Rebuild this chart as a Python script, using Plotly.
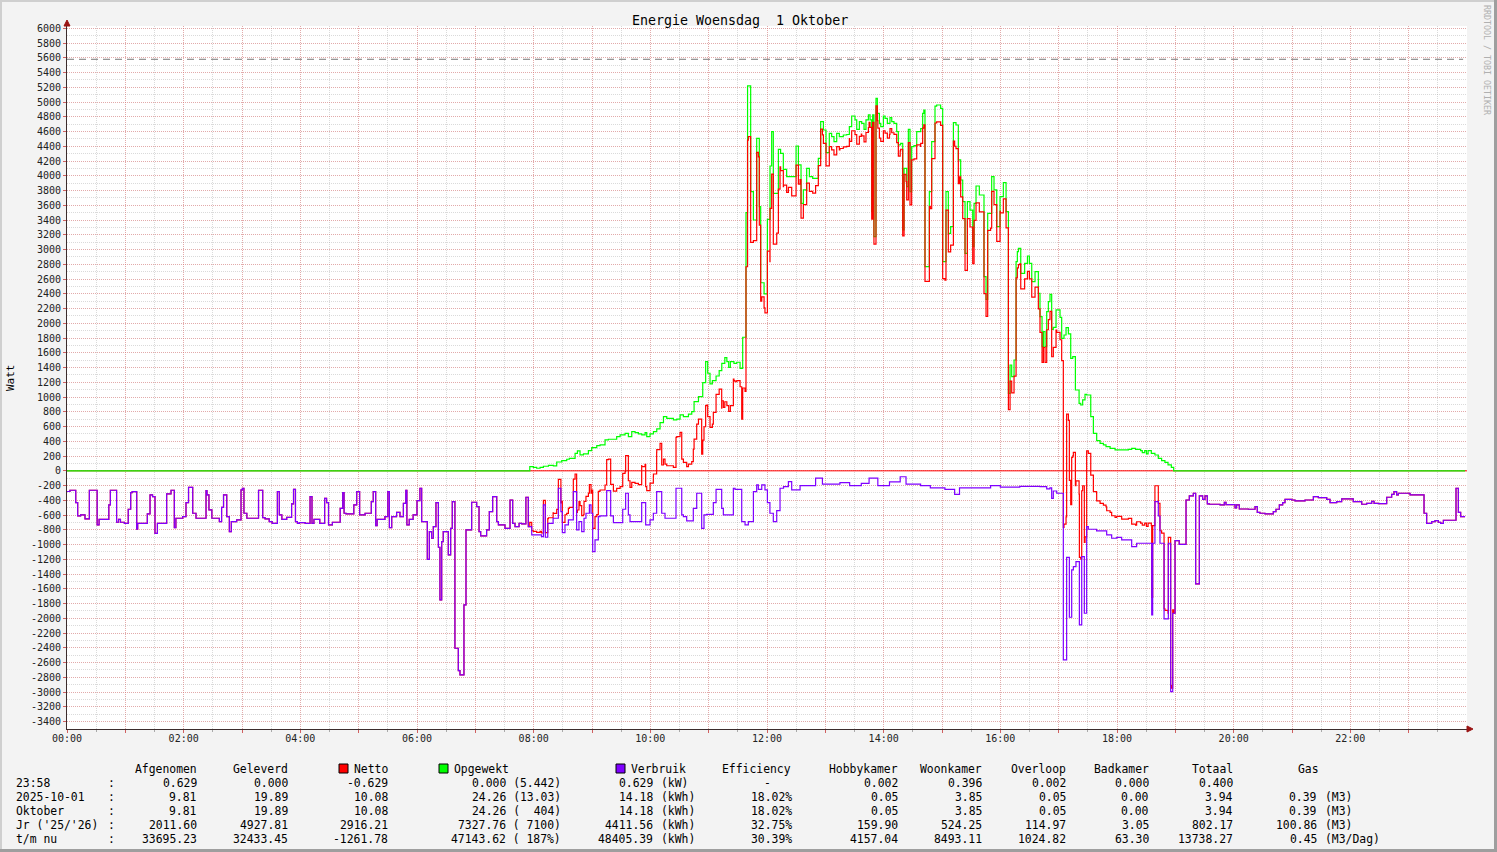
import numpy as np
import plotly.graph_objects as go

# ---------------- data (time in minutes after 00:00, values in Watt) ----------------
# Verbruik (consumption), drawn below the axis (negative)
verbruik_t = [0, 3, 9, 11, 14, 18.5, 23, 31, 33, 43, 44.6, 51, 53, 55, 59, 63, 65.5, 67, 71.7, 72.7,
              82.6, 85.4, 88, 90.5, 93, 102.5, 107, 110.4, 112, 119, 122.4, 125, 129.3, 132.7, 143, 144,
              146, 149, 156.7, 159, 161, 164.3, 167, 169, 174.5, 179, 180.4, 182, 185, 197, 201.3, 203.7,
              208, 211, 216.4, 218.4, 221, 226, 231, 233, 235, 237, 239, 245, 250, 252, 254, 260, 265,
              267, 269, 273, 281, 283.6, 285, 287, 295, 298, 301, 306.6, 313, 315, 317.5, 319, 327, 330,
              331.6, 334, 339, 342.5, 346, 348.5, 349.6, 352, 356, 360, 363, 364.8, 370.6, 372.7, 375,
              376.8, 379.5, 382, 383.6, 385.4, 387, 392.2, 394.6, 396.3, 399, 402.5, 404.2, 408.3, 410.4,
              416.2, 421.4, 423.8, 425.5, 431.6, 434.4, 437.8, 442, 443.7, 450.5, 455.7, 458.4, 460.8,
              465, 467.7, 472, 474.5, 478, 488, 490, 492, 494.5, 500, 505.4, 508, 509.5, 512.2, 515.7,
              520.8, 524.2, 526.6, 529.4, 531.8, 533.8, 537.3, 539, 540.7, 543.1, 546.5, 548.2, 555.1,
              559.2, 562, 571.6, 574.6, 577.4, 579.1, 591.1, 595.2, 599.7, 603.1, 606.5, 611.7, 615.1,
              626.4, 632.3, 634, 637.4, 644.2, 647.7, 652.8, 655.2, 658, 664.8, 667.6, 673.4, 675.1,
              685.4, 687.1, 694, 697.4, 700.8, 706, 709.4, 711.1, 714.6, 717.9, 720.4, 723, 726.5, 730,
              733.4, 737, 742, 745.4, 754, 762, 770, 777, 795, 805, 817, 825, 834, 846, 857, 863, 878,
              888, 903, 913, 918, 950, 960, 980, 1000.8, 1007.7, 1011, 1012.8, 1014.5, 1018, 1024.8,
              1028.2, 1031, 1033.4, 1035.1, 1037.8, 1041.3, 1043.7, 1046.4, 1048.8, 1050.5, 1059, 1069.4,
              1074.5, 1079.7, 1084.8, 1095.1, 1100.2, 1115.7, 1116.7, 1119, 1122.5, 1124.2, 1128.4,
              1132.8, 1135.2, 1137.3, 1139.7, 1144, 1151, 1154.4, 1158.5, 1160.9, 1164.7, 1168.1, 1170.5,
              1172.9, 1175, 1186, 1190.4, 1192.1, 1201.4, 1203, 1205.8, 1215.1, 1222, 1224.3, 1227,
              1232.2, 1240.8, 1243.5, 1247, 1250.4, 1252.8, 1259.7, 1263.1, 1273.4, 1282, 1287.1, 1295.7,
              1299.1, 1306, 1311.1, 1323, 1331.7, 1336.8, 1342, 1344.4, 1348.8, 1357.4, 1362.5, 1364.9,
              1367.6, 1369.4, 1381.4, 1395.8, 1398.5, 1403.7, 1407.1, 1410.5, 1412.9, 1415.7, 1428.7,
              1431.1, 1433.5]
verbruik_w = [-280, -263, -430, -611, -598, -652, -263, -733, -657, -462, -263, -697, -657, -697, -711, -521,
              -295, -281, -792, -711, -584, -327, -349, -847, -711, -313, -263, -770, -643, -620, -431,
              -223, -575, -643, -268, -327, -530, -643, -688, -494, -327, -620, -824, -688, -666, -259,
              -236, -575, -643, -263, -634, -652, -688, -711, -281, -598, -657, -630, -449, -250, -688,
              -711, -701, -711, -349, -711, -657, -711, -372, -431, -733, -697, -508, -295, -575, -584,
              -462, -281, -598, -575, -417, -281, -742, -657, -620, -281, -770, -620, -562, -620, -440,
              -263, -733, -657, -598, -404, -236, -688, -1199, -824, -914, -756, -430, -1036, -1750, -959,
              -824, -1140, -779, -417, -2405, -2708, -2767, -1818, -801, -426, -485, -824, -882, -801,
              -553, -349, -688, -733, -779, -395, -711, -756, -711, -720, -358, -756, -869, -891, -462,
              -900, -711, -643, -236, -553, -837, -733, -666, -281, -801, -688, -824, -643, -575, -462,
              -575, -1095, -936, -620, -611, -268, -611, -702, -521, -304, -598, -688, -430, -733, -666,
              -575, -281, -575, -643, -236, -598, -620, -679, -508, -304, -779, -598, -589, -430, -250,
              -508, -598, -236, -250, -688, -733, -688, -281, -191, -250, -191, -259, -430, -575, -688,
              -539, -236, -214, -146, -259, -200, -200, -100, -180, -160, -200, -170, -100, -200, -150,
              -80, -180, -200, -230, -250, -320, -230, -200, -220, -210, -214, -245, -230, -372, -273,
              -304, -2564, -1172, -1985, -1344, -1298, -1231, -2089, -1163, -1931, -756, -792, -815, -869,
              -914, -901, -937, -1027, -982, -1954, -982, -417, -612, -982, -2008, -982, -2993, -1931,
              -946, -996, -395, -340, -304, -1533, -340, -386, -340, -449, -453, -462, -426, -458, -503,
              -462, -517, -521, -485, -562, -575, -584, -553, -521, -462, -431, -386, -395, -408, -395,
              -349, -363, -386, -431, -417, -381, -417, -453, -440, -413, -440, -444, -358, -318, -281,
              -327, -304, -327, -575, -711, -688, -675, -697, -711, -670, -236, -562, -620]

# Opgewekt (solar production)
opgewekt_t = [0, 476, 479.7, 483.1, 486.6, 490, 495.2, 500.3, 503.7, 508.9, 514, 516.7, 522.6, 525, 527.7,
              531.2, 536.3, 539.7, 544.9, 548.3, 553.4, 556.9, 565.4, 568.9, 574, 577.4, 580.9, 584.3,
              587.7, 591.2, 594.6, 596.3, 599.7, 603.2, 606.6, 610, 613.5, 616.9, 623.7, 627.2, 630.6,
              634, 639.2, 642.6, 645, 649.5, 653.9, 656.9, 659, 661.4, 663.8, 667.6, 670.8, 673.5, 676.6,
              678.7, 680.6, 682.3, 686, 688.9, 692.3, 695, 698.4, 700, 703.2, 706, 709.4, 712.1, 713.5,
              717, 720.4, 723.1, 724.8, 726.5, 731.7, 734, 736.8, 740.2, 749.9, 752.3, 755, 757.4, 760.8,
              763.6, 767, 772.8, 775.2, 778, 780.7, 784.1, 786.5, 788.9, 791.7, 794.4, 798.5, 802, 804.7,
              807.1, 810.5, 812.3, 815, 817.4, 819.8, 821.8, 824.3, 826, 827.7, 828.7, 830, 832.1, 833.5,
              835.6, 837, 839.7, 841.4, 843.8, 846.5, 848.3, 850.6, 853.4, 855.1, 857.5, 859.6, 861,
              863.7, 865.4, 867.1, 868.8, 871.2, 874, 878.1, 880.1, 881.3, 882.5, 887, 889.4, 892.8, 894.5,
              898.6, 900.7, 904.1, 906.5, 908.9, 911.7, 914.4, 916.8, 919.2, 921.3, 923.7, 926.1, 928.8,
              931.6, 933, 935, 938.4, 943.2, 945.3, 947, 951.1, 953.5, 956.3, 959.7, 963.1, 965.9, 968.3,
              970, 971.7, 974.1, 976.2, 977.5, 978.6, 981, 985, 987.9, 989.9, 992.3, 995.7, 999.1,
              1000.8, 1002.9, 1004.3, 1006, 1007.7, 1009.4, 1011.1, 1012.8, 1014.5, 1017.3, 1021.4,
              1023.1, 1025.5, 1027.6, 1030, 1032.4, 1034.5, 1037.2, 1041, 1042.7, 1044.7, 1047.1, 1048.8,
              1053, 1055.7, 1059.1, 1062.6, 1066, 1068.7, 1072.9, 1078, 1091.7, 1095.1, 1099.1, 1104.3,
              1106, 1108.5, 1110.3, 1112, 1115.3, 1119, 1122.5, 1125.9, 1129.3, 1132.5, 1135.9, 1138.3]
opgewekt_w = [0, 57, 48, 35, 48, 62, 75, 66, 120, 138, 157, 170, 238, 270, 216, 229, 274, 315, 342, 351, 419,
              428, 464, 487, 509, 464, 532, 518, 500, 487, 518, 464, 500, 532, 570, 654, 735, 712, 690,
              700, 758, 735, 770, 803, 938, 1006, 1196, 1481, 1323, 1178, 1223, 1286, 1359, 1458, 1535,
              1481, 1404, 1481, 1458, 1472, 1390, 1811, 3500, 5218, 3785, 3401, 4508, 3582, 2550, 2400,
              3410, 4133, 4599, 3763, 4359, 4305, 4088, 3988, 4404, 4147, 3627, 3808, 4101, 3988, 3966,
              4237, 4734, 4621, 4314, 4576, 4531, 4463, 4576, 4530, 4553, 4560, 4666, 4811, 4757, 4630,
              4734, 4712, 4630, 4757, 4825, 4757, 3514, 4825, 3175, 5050, 4847, 4712, 4666, 4811, 4779,
              4712, 4790, 4734, 4712, 4599, 4418, 4440, 3265, 4101, 3853, 4630, 3785, 4395, 4410, 4599,
              4640, 4847, 4892, 2768, 3785, 4463, 4946, 4960, 4915, 2836, 3785, 3220, 3310, 4721, 4689,
              4215, 3943, 3650, 2949, 3650, 3536, 3040, 3627, 3862, 3740, 2633, 2325, 3491, 3988, 3808,
              3310, 3717, 3907, 3514, 1051, 1435, 1277, 1503, 2836, 2971, 3017, 2678, 2813, 2913, 2813,
              2565, 2700, 2407, 2090, 1684, 1887, 1684, 2158, 2294, 2393, 1919, 1946, 2181, 2081, 1797,
              1842, 1941, 1856, 1525, 1548, 1096, 916, 893, 961, 1037, 1028, 735, 509, 409, 373, 351, 328,
              305, 283, 292, 305, 292, 274, 247, 274, 229, 274, 238, 215, 170, 138, 116, 80, 48, 0]

assert len(verbruik_t) == len(verbruik_w), (len(verbruik_t), len(verbruik_w))
assert len(opgewekt_t) == len(opgewekt_w), (len(opgewekt_t), len(opgewekt_w))

END_T = 1438            # last sample (23:58)
capaciteit_w = 5580     # dashed reference line

hour_ticks = list(range(0, 24))
y_ticks = list(range(-3400, 6001, 200))

legend_rows = ["23:58", "2025-10-01", "Oktober", "Jr ('25/'26)", "t/m nu"]
col_afgenomen = ["0.629", "9.81", "9.81", "2011.60", "33695.23"]
col_geleverd = ["0.000", "19.89", "19.89", "4927.81", "32433.45"]
col_netto = ["-0.629", "10.08", "10.08", "2916.21", "-1261.78"]
col_opgewekt = ["0.000 (5.442)", "24.26 (13.03)", "24.26 (  404)", "7327.76 ( 7100)", "47143.62 ( 187%)"]
col_verbruik = ["0.629", "14.18", "14.18", "4411.56", "48405.39"]
col_verbruik_unit = ["(kW)", "(kWh)", "(kWh)", "(kWh)", "(kWh)"]
col_efficiency = ["-", "18.02%", "18.02%", "32.75%", "30.39%"]
col_hobbykamer = ["0.002", "0.05", "0.05", "159.90", "4157.04"]
col_woonkamer = ["0.396", "3.85", "3.85", "524.25", "8493.11"]
col_overloop = ["0.002", "0.05", "0.05", "114.97", "1024.82"]
col_badkamer = ["0.000", "0.00", "0.00", "3.05", "63.30"]
col_totaal = ["0.400", "3.94", "3.94", "802.17", "13738.27"]
col_gas = ["", "0.39", "0.39", "100.86", "0.45"]
col_gas_unit = ["", "(M3)", "(M3)", "(M3)", "(M3/Dag)"]

# ---------------- derived series (like an rrdtool CDEF) ----------------
def step_eval(tk, vk, grid):
    idx = np.searchsorted(np.asarray(tk), grid, side="right") - 1
    return np.asarray(vk, dtype=float)[idx]

grid_t = np.union1d(verbruik_t, opgewekt_t)
netto_w = step_eval(opgewekt_t, opgewekt_w, grid_t) + step_eval(verbruik_t, verbruik_w, grid_t)

def closed(t, v):
    return list(t) + [END_T], list(v) + [v[-1]]

# ---------------- figure ----------------
W, H = 1497, 852
PX0, PX1, PY0, PY1 = 67, 1467, 26, 729
FONT = "DejaVu Sans Mono"
NB = "\u00a0"

def xp(px):
    return (px - PX0) / (PX1 - PX0)

def yp(py):
    return (PY1 - py) / (PY1 - PY0)

fig = go.Figure()

# zero rule (red) and capacity line
fig.add_trace(go.Scatter(x=[0, 1440], y=[0, 0], mode="lines", line=dict(color="#ff0000", width=1),
                         hoverinfo="skip", showlegend=False))
fig.add_trace(go.Scatter(x=[0, 1436], y=[capaciteit_w, capaciteit_w], mode="lines",
                         line=dict(color="#777777", width=1, dash="7px,5px"), hoverinfo="skip",
                         showlegend=False))

gx, gy = closed(opgewekt_t, opgewekt_w)
fig.add_trace(go.Scatter(x=gx, y=gy, mode="lines", line=dict(color="#00ff00", width=1.2, shape="hv"),
                         name="Opgewekt", showlegend=False))
nx, ny = closed(grid_t, netto_w)
fig.add_trace(go.Scatter(x=nx, y=ny, mode="lines", line=dict(color="#ff0000", width=1.2, shape="hv"),
                         name="Netto", showlegend=False))
vx, vy = closed(verbruik_t, verbruik_w)
fig.add_trace(go.Scatter(x=vx, y=vy, mode="lines", line=dict(color="#7f00ff", width=1.2, shape="hv"),
                         name="Verbruik", showlegend=False))

MAJ = "rgba(235,110,110,0.45)"
MIN = "rgba(150,150,150,0.35)"
DOT = "1px,1px"

fig.update_xaxes(
    range=[0, 1440], tickmode="array", tickvals=[h * 60 for h in hour_ticks],
    ticktext=[f"{h:02d}:00" if h % 2 == 0 else "" for h in hour_ticks],
    showgrid=True, gridcolor=MAJ, gridwidth=1, griddash=DOT, zeroline=False,
    showline=True, linecolor="#3c2c2c", linewidth=1,
    ticks="outside", ticklen=3, tickcolor="#d06060", ticklabelstandoff=-3,
    tickfont=dict(family=FONT, size=10, color="#222222"),
    minor=dict(dtick=30, tick0=0, showgrid=True, gridcolor=MIN, griddash=DOT, ticks="outside",
               ticklen=2, tickcolor="#aaaaaa"),
)
fig.update_yaxes(
    range=[-3500, 6031], tickmode="array", tickvals=y_ticks, ticktext=[str(v) for v in y_ticks],
    showgrid=True, gridcolor=MAJ, gridwidth=1, griddash=DOT, zeroline=False,
    showline=True, linecolor="#3c2c2c", linewidth=1,
    ticks="outside", ticklen=3, tickcolor="#d06060",
    tickfont=dict(family=FONT, size=10, color="#222222"),
    minor=dict(dtick=100, tick0=0, showgrid=True, gridcolor=MIN, griddash=DOT),
)

annotations = []
shapes = []

def txt(px, py, s, anchor="left", size=11.4, color="#000000", angle=0):
    annotations.append(dict(x=xp(px), y=yp(py), xref="paper", yref="paper", text=s.replace(" ", NB),
                            showarrow=False, xanchor=anchor, yanchor="middle", textangle=angle,
                            font=dict(family=FONT, size=size, color=color), borderpad=0, borderwidth=0))

# title, axis label, watermark
txt(740, 20, "Energie Woensdag  1 Oktober", "center", 13.3)
txt(10, 378, "Watt", "center", 11, angle=-90)
txt(1487, 60, "RRDTOOL / TOBI OETIKER", "center", 8.3, color="#b0b0b0", angle=90)

# legend table
ROW_Y = [783, 797, 811, 825, 839]
HEAD_Y = 769
txt(197, HEAD_Y, "Afgenomen", "right")
txt(288, HEAD_Y, "Geleverd", "right")
txt(354, HEAD_Y, "Netto", "left")
txt(454, HEAD_Y, "Opgewekt", "left")
txt(631, HEAD_Y, "Verbruik", "left")
txt(791, HEAD_Y, "Efficiency", "right")
txt(898, HEAD_Y, "Hobbykamer", "right")
txt(982, HEAD_Y, "Woonkamer", "right")
txt(1066, HEAD_Y, "Overloop", "right")
txt(1149, HEAD_Y, "Badkamer", "right")
txt(1233, HEAD_Y, "Totaal", "right")
txt(1298, HEAD_Y, "Gas", "left")

for i, ry in enumerate(ROW_Y):
    txt(16, ry, legend_rows[i], "left")
    txt(111, ry, ":", "center")
    txt(197, ry, col_afgenomen[i], "right")
    txt(288, ry, col_geleverd[i], "right")
    txt(388, ry, col_netto[i], "right")
    txt(561, ry, col_opgewekt[i], "right")
    txt(653, ry, col_verbruik[i], "right")
    txt(661, ry, col_verbruik_unit[i], "left")
    if col_efficiency[i] == "-":
        txt(768, ry, "-", "center")
    else:
        txt(792, ry, col_efficiency[i], "right")
    txt(898, ry, col_hobbykamer[i], "right")
    txt(982, ry, col_woonkamer[i], "right")
    txt(1066, ry, col_overloop[i], "right")
    txt(1149, ry, col_badkamer[i], "right")
    txt(1233, ry, col_totaal[i], "right")
    if col_gas[i]:
        txt(1317, ry, col_gas[i], "right")
        txt(1325, ry, col_gas_unit[i], "left")

def rect(x0, y0, x1, y1, fill, line=None, lw=0):
    shapes.append(dict(type="rect", xref="paper", yref="paper", x0=xp(x0), x1=xp(x1), y0=yp(y1), y1=yp(y0),
                       fillcolor=fill, line=dict(color=line or fill, width=lw), layer="above"))

# legend colour boxes
rect(339, 764, 348, 773, "#ff0000", "#000000", 1)
rect(439, 764, 448, 773, "#00ff00", "#000000", 1)
rect(616, 764, 625, 773, "#7f00ff", "#000000", 1)

# frame of the image
rect(0, 0, W, 2, "#cfcfcf")
rect(0, 0, 2, H, "#cfcfcf")
rect(0, H - 3, W, H, "#9e9e9e")
rect(W - 3, 0, W, H, "#9e9e9e")

# axis arrows
def tri(path):
    shapes.append(dict(type="path", xref="paper", yref="paper", path=path, fillcolor="#9a1414",
                       line=dict(color="#9a1414", width=1), layer="above"))

tri(f"M {xp(64)} {yp(26)} L {xp(70)} {yp(26)} L {xp(67)} {yp(20)} Z")
tri(f"M {xp(1467)} {yp(726)} L {xp(1467)} {yp(732)} L {xp(1473)} {yp(729)} Z")

fig.update_layout(
    width=W, height=H, autosize=False,
    margin=dict(l=PX0, r=W - PX1, t=PY0, b=H - PY1, pad=0),
    paper_bgcolor="#f3f3f3", plot_bgcolor="#ffffff",
    showlegend=False, annotations=annotations, shapes=shapes,
    font=dict(family=FONT, size=11, color="#000000"),
)

fig.write_html("out.html", config={"displayModeBar": False},
               post_script="document.body.style.margin='0';document.body.style.overflow='hidden';")
